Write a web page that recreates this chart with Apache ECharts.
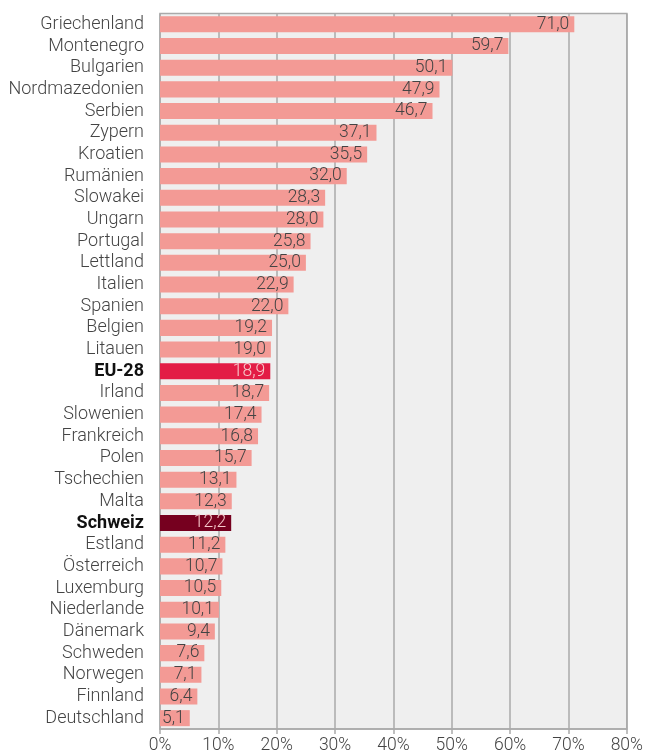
<!DOCTYPE html>
<html><head><meta charset="utf-8">
<script src="https://cdn.jsdelivr.net/npm/echarts@6/dist/echarts.min.js"></script>
<style>html,body{margin:0;padding:0;background:#fff}#c{width:646px;height:756px}</style>
</head><body><div id="c"></div>
<script>
const categories = ["Griechenland","Montenegro","Bulgarien","Nordmazedonien","Serbien","Zypern","Kroatien","Rumänien","Slowakei","Ungarn","Portugal","Lettland","Italien","Spanien","Belgien","Litauen","EU-28","Irland","Slowenien","Frankreich","Polen","Tschechien","Malta","Schweiz","Estland","Österreich","Luxemburg","Niederlande","Dänemark","Schweden","Norwegen","Finnland","Deutschland"];
const values = [71.0,59.7,50.1,47.9,46.7,37.1,35.5,32.0,28.3,28.0,25.8,25.0,22.9,22.0,19.2,19.0,18.9,18.7,17.4,16.8,15.7,13.1,12.3,12.2,11.2,10.7,10.5,10.1,9.4,7.6,7.1,6.4,5.1];
const xTicks = [0,10,20,30,40,50,60,70,80];
const highlight = {"EU-28":"#e31c45","Schweiz":"#76001f"};

const chart = echarts.init(document.getElementById('c'), null, {renderer:'canvas'});
const FONT = 'Roboto';
const FS = 17.5;
const FSY = 18;
chart.setOption({
  animation:false,
  grid:{left:160,right:16,top:13.5,bottom:27,show:true,backgroundColor:'#efefef',borderColor:'#aaaaaa',borderWidth:1.5},
  xAxis:{type:'value',min:xTicks[0],max:xTicks[xTicks.length-1],interval:10,
    axisLine:{show:true,lineStyle:{color:'#aaaaaa',width:1.5}},
    axisTick:{show:true,length:5,lineStyle:{color:'#aaaaaa',width:1.5}},
    splitLine:{show:true,lineStyle:{color:'#aaaaaa',width:1.5}},
    axisLabel:{color:'#444',fontFamily:FONT,fontWeight:300,fontSize:FS,margin:8,formatter:v=>v+'%'}},
  yAxis:{type:'category',inverse:true,data:categories,
    axisLine:{show:false},axisTick:{show:false},
    axisLabel:{interval:0,margin:16,fontFamily:FONT,fontSize:FSY,formatter:v=>highlight[v]?'{b|'+v+'}':'{n|'+v+'}',
      rich:{n:{color:'#444',fontFamily:FONT,fontWeight:300,fontSize:FSY},b:{color:'#111',fontFamily:FONT,fontWeight:'bold',fontSize:FSY}}}},
  series:[{type:'bar',barCategoryGap:'26%',
    data:values.map((v,i)=>({value:v,itemStyle:{color:highlight[categories[i]]||'#f39a95'},
      label:{color:highlight[categories[i]]?'#f7c9cc':'#444'}})),
    label:{show:true,position:'insideRight',distance:5,fontFamily:FONT,fontWeight:300,fontSize:FS,
      formatter:p=>p.value.toFixed(1).replace('.',',')}}]
});
</script></body></html>
